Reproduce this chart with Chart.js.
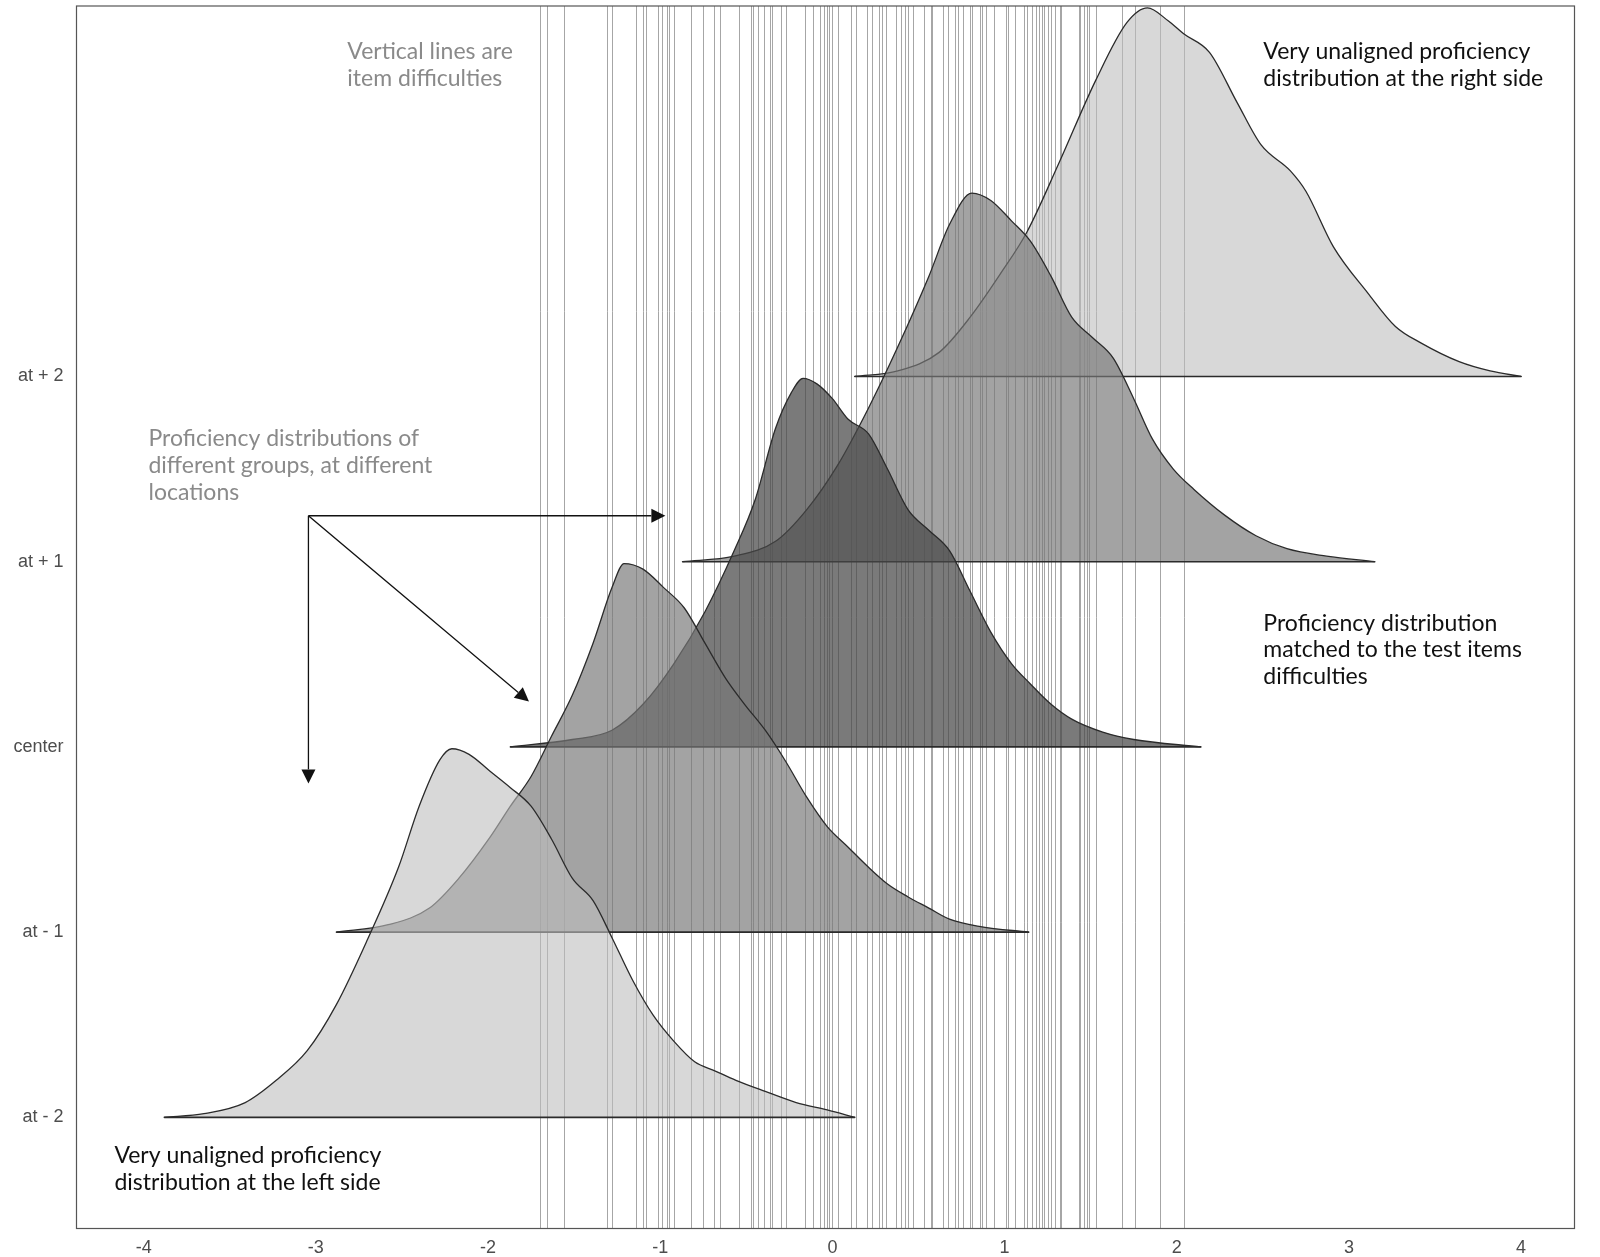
<!DOCTYPE html>
<html>
<head>
<meta charset="utf-8">
<script src="https://cdn.jsdelivr.net/npm/chart.js@4"></script>
<style>
  body { margin: 0; background: #fff; }
  #wrap { width: 1600px; height: 1257px; }
</style>
</head>
<body>
<div id="wrap"><canvas id="ridgeChart" width="1600" height="1257"></canvas></div>
<script>
// Group labels on the y axis, bottom to top
const groupLabels = ['at - 2', 'at - 1', 'center', 'at + 1', 'at + 2'];
const xTicks = [-4, -3, -2, -1, 0, 1, 2, 3, 4];

// Item difficulties (vertical lines)
const difficulties = [-1.70, -1.66, -1.56, -1.31, -1.28, -1.14, -1.10, -1.08, -1.01, -0.99,
    -0.96, -0.95, -0.92, -0.82, -0.75, -0.69, -0.65, -0.54, -0.47, -0.46, -0.43, -0.40,
    -0.36, -0.35, -0.30, -0.27, -0.16, -0.11, -0.07, -0.05, -0.03, -0.02, 0.00, 0.03,
    0.11, 0.14, 0.20, 0.23, 0.27, 0.29, 0.31, 0.37, 0.40, 0.42, 0.44, 0.47, 0.53, 0.57,
    0.58, 0.64, 0.67, 0.71, 0.73, 0.76, 0.80, 0.81, 0.86, 0.87, 0.89, 0.94, 1.01, 1.02,
    1.06, 1.11, 1.13, 1.16, 1.18, 1.20, 1.22, 1.23, 1.25, 1.27, 1.29, 1.32, 1.33, 1.43,
    1.44, 1.46, 1.48, 1.49, 1.53, 1.68, 1.76, 1.90, 2.04];

// Density ridges: x positions and scaled heights above each baseline
const xMinus2 = [-3.88, -3.65, -3.41, -3.23, -3.05, -2.88, -2.70, -2.52, -2.40, -2.28, -2.21, -2.11,
    -1.99, -1.87, -1.75, -1.63, -1.51, -1.39, -1.28, -1.16, -1.04, -0.92, -0.80, -0.68, -0.56,
    -0.39, -0.21, -0.03, 0.13];
const hMinus2 = [0, 0.02, 0.08, 0.20, 0.36, 0.61, 0.96, 1.35, 1.68, 1.93, 1.99, 1.96,
    1.87, 1.78, 1.68, 1.50, 1.29, 1.17, 0.97, 0.74, 0.55, 0.41, 0.30, 0.25, 0.20,
    0.14, 0.08, 0.04, 0];

const xMinus1 = [-2.88, -2.58, -2.34, -2.17, -1.99, -1.87, -1.75, -1.63, -1.51, -1.39, -1.28, -1.21,
    -1.10, -0.98, -0.86, -0.74, -0.62, -0.51, -0.39, -0.27, -0.15, -0.03, 0.09, 0.21, 0.32,
    0.44, 0.56, 0.68, 0.86, 1.14];
const hMinus1 = [0, 0.04, 0.13, 0.29, 0.51, 0.68, 0.84, 1.06, 1.28, 1.56, 1.86, 1.99,
    1.96, 1.86, 1.75, 1.56, 1.37, 1.23, 1.09, 0.92, 0.73, 0.57, 0.46, 0.35, 0.26,
    0.19, 0.13, 0.07, 0.03, 0];

const xCenter = [-1.87, -1.51, -1.28, -1.10, -0.92, -0.74, -0.57, -0.45, -0.33, -0.24, -0.17, -0.09,
    0, 0.09, 0.21, 0.32, 0.44, 0.56, 0.68, 0.80, 0.92, 1.04, 1.15, 1.27, 1.39, 1.57, 1.75, 2.14];
const hCenter = [0, 0.04, 0.09, 0.23, 0.45, 0.73, 1.06, 1.33, 1.72, 1.91, 1.99, 1.96,
    1.88, 1.77, 1.69, 1.50, 1.28, 1.17, 1.06, 0.84, 0.62, 0.45, 0.34, 0.23, 0.15, 0.08, 0.04, 0];

const xPlus1 = [-0.87, -0.57, -0.33, -0.15, 0.03, 0.21, 0.38, 0.56, 0.68, 0.81, 0.92, 1.04,
    1.15, 1.27, 1.39, 1.51, 1.63, 1.75, 1.86, 1.98, 2.10, 2.28, 2.46, 2.64, 2.87, 3.15];
const hPlus1 = [0, 0.03, 0.11, 0.28, 0.52, 0.83, 1.16, 1.54, 1.82, 1.99, 1.95, 1.84,
    1.73, 1.54, 1.32, 1.21, 1.10, 0.88, 0.66, 0.50, 0.39, 0.25, 0.14, 0.07, 0.03, 0];

const xPlus2 = [0.13, 0.38, 0.62, 0.80, 0.98, 1.13, 1.31, 1.53, 1.71, 1.83, 1.95,
    2.04, 2.19, 2.35, 2.49, 2.66, 2.75, 2.91, 3.11, 3.27, 3.42, 3.64, 3.82, 4.00];
const hPlus2 = [0, 0.03, 0.13, 0.32, 0.56, 0.78, 1.14, 1.60, 1.91, 1.99, 1.92,
    1.85, 1.75, 1.48, 1.25, 1.11, 1.00, 0.70, 0.45, 0.27, 0.18, 0.08, 0.03, 0];

// Text notes: [x, y, colour, lines]
const notes = [
    [-2.817, 6.755, '#8a8a8a', ['Vertical lines are', 'item difficulties']],
    [2.503, 6.755, '#111111', ['Very unaligned proficiency', 'distribution at the right side']],
    [-3.972, 4.663, '#8a8a8a', ['Proficiency distributions of', 'different groups, at different', 'locations']],
    [2.503, 3.668, '#111111', ['Proficiency distribution', 'matched to the test items', 'difficulties']],
    [-4.170, 0.792, '#111111', ['Very unaligned proficiency', 'distribution at the left side']]
];

// Arrows from one origin
const arrowFrom = [-3.043, 4.248];
const arrowTo = [[-0.970, 4.248], [-1.762, 3.245], [-3.043, 2.803]];

const ridges = [
    { xs: xMinus2, hs: hMinus2, base: 1, fill: 'rgba(190,190,190,0.6)' },
    { xs: xMinus1, hs: hMinus1, base: 2, fill: 'rgba(120,120,120,0.68)' },
    { xs: xCenter, hs: hCenter, base: 3, fill: 'rgba(70,70,70,0.72)' },
    { xs: xPlus1, hs: hPlus1, base: 4, fill: 'rgba(120,120,120,0.68)' },
    { xs: xPlus2, hs: hPlus2, base: 5, fill: 'rgba(190,190,190,0.6)' }
];

function buildDatasets() {
    var datasets = [];
    ridges.forEach((r, i) => {
        // Density outline with fill down to the baseline
        datasets.push({
            type: 'line',
            data: r.xs.map((x, j) => ({ x: x, y: r.base + r.hs[j] })),
            borderColor: '#2b2b2b',
            borderWidth: 1.3,
            backgroundColor: r.fill,
            fill: { value: r.base },
            pointRadius: 0,
            cubicInterpolationMode: 'monotone',
            order: i * 2 + 1
        });
        // Baseline segment under the ridge
        datasets.push({
            type: 'line',
            data: [{ x: r.xs[0], y: r.base }, { x: r.xs[r.xs.length - 1], y: r.base }],
            borderColor: '#2b2b2b',
            borderWidth: 1.6,
            borderCapStyle: 'round',
            fill: false,
            pointRadius: 0,
            order: i * 2
        });
    });
    return datasets;
}

const backdropPlugin = {
    id: 'backdrop',
    beforeDatasetsDraw(chart) {
        const { ctx, chartArea, scales } = chart;
        ctx.save();
        ctx.strokeStyle = 'rgba(150,150,150,0.85)';
        ctx.lineWidth = 1;
        difficulties.forEach(d => {
            const px = Math.round(scales.x.getPixelForValue(d)) + 0.5;
            ctx.beginPath();
            ctx.moveTo(px, chartArea.top);
            ctx.lineTo(px, chartArea.bottom);
            ctx.stroke();
        });
        ctx.restore();
    },
    afterDatasetsDraw(chart) {
        const { ctx, chartArea, scales } = chart;
        ctx.save();
        // Panel border
        ctx.strokeStyle = '#555555';
        ctx.lineWidth = 1.2;
        ctx.strokeRect(chartArea.left, chartArea.top, chartArea.right - chartArea.left, chartArea.bottom - chartArea.top);

        // Notes
        ctx.font = '23px Lato, "Noto Sans", sans-serif';
        ctx.textAlign = 'left';
        ctx.textBaseline = 'middle';
        notes.forEach(n => {
            const px = scales.x.getPixelForValue(n[0]);
            const py = scales.y.getPixelForValue(n[1]);
            ctx.fillStyle = n[2];
            n[3].forEach((line, k) => ctx.fillText(line, px, py + k * 26.8));
        });

        // Arrows
        const ox = scales.x.getPixelForValue(arrowFrom[0]);
        const oy = scales.y.getPixelForValue(arrowFrom[1]);
        ctx.strokeStyle = '#111';
        ctx.fillStyle = '#111';
        ctx.lineWidth = 1.3;
        arrowTo.forEach(t => {
            const tx = scales.x.getPixelForValue(t[0]);
            const ty = scales.y.getPixelForValue(t[1]);
            const ang = Math.atan2(ty - oy, tx - ox);
            const len = 14, half = 7;
            const bx = tx - len * Math.cos(ang), by = ty - len * Math.sin(ang);
            ctx.beginPath();
            ctx.moveTo(ox, oy);
            ctx.lineTo(bx, by);
            ctx.stroke();
            ctx.beginPath();
            ctx.moveTo(tx, ty);
            ctx.lineTo(bx + half * Math.sin(ang), by - half * Math.cos(ang));
            ctx.lineTo(bx - half * Math.sin(ang), by + half * Math.cos(ang));
            ctx.closePath();
            ctx.fill();
        });
        ctx.restore();
    }
};

Chart.defaults.font.family = '"Liberation Sans", Arial, sans-serif';

new Chart(document.getElementById('ridgeChart').getContext('2d'), {
    type: 'scatter',
    data: { datasets: buildDatasets() },
    options: {
        responsive: false,
        animation: false,
        layout: { padding: { top: 6, right: 25.5, left: 0, bottom: 0 } },
        plugins: { legend: { display: false }, tooltip: { enabled: false } },
        scales: {
            x: {
                type: 'linear',
                min: -4.39,
                max: 4.31,
                grid: { display: false, drawTicks: false },
                border: { display: false },
                afterBuildTicks: s => { s.ticks = xTicks.map(v => ({ value: v })); },
                ticks: { color: '#4d4d4d', font: { size: 18 }, padding: 9 },
                afterFit: s => { s.height = 28.5; s.paddingLeft = 0; s.paddingRight = 0; }
            },
            y: {
                type: 'linear',
                min: 0.4,
                max: 7.0,
                grid: { display: false, drawTicks: false },
                border: { display: false },
                afterBuildTicks: s => { s.ticks = groupLabels.map((g, i) => ({ value: i + 1 })); },
                ticks: {
                    color: '#4d4d4d',
                    font: { size: 18 },
                    padding: 13,
                    callback: v => groupLabels[v - 1]
                },
                afterFit: s => { s.width = 76.5; s.paddingTop = 0; s.paddingBottom = 0; }
            }
        }
    },
    plugins: [backdropPlugin]
});
</script>
</body>
</html>
